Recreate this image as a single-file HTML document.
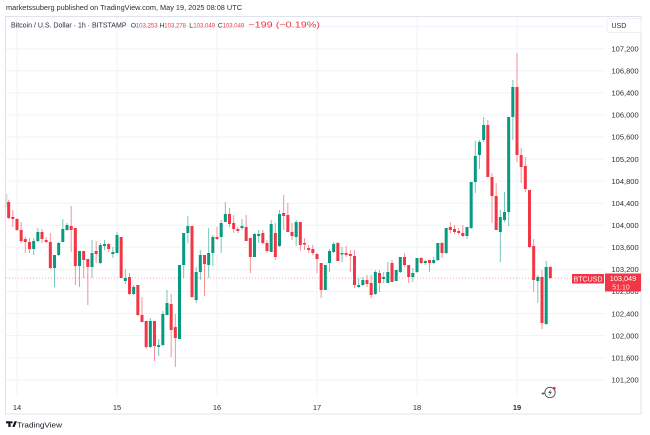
<!DOCTYPE html>
<html>
<head>
<meta charset="utf-8">
<style>
html,body{margin:0;padding:0;background:#fff;}
body{width:650px;height:435px;overflow:hidden;}
svg{display:block;font-family:"Liberation Sans",sans-serif;}
</style>
</head>
<body>
<svg width="650" height="435" viewBox="0 0 650 435" xmlns="http://www.w3.org/2000/svg">
<rect width="650" height="435" fill="#fff"/>
<!-- header line 1 -->
<text x="6" y="10" font-size="7.6" fill="#2a2e39" textLength="236" lengthAdjust="spacingAndGlyphs">marketssuberg published on TradingView.com, May 19, 2025 08:08 UTC</text>
<!-- frame -->
<rect x="5.5" y="16.5" width="635.5" height="397.5" fill="none" stroke="#e0e3eb" stroke-width="1"/>
<!-- horizontal grid -->
<g stroke="#f0f3fa" stroke-width="1">
<line x1="6" x2="605" y1="26.6" y2="26.6"/>
<line x1="6" x2="605" y1="48.7" y2="48.7"/>
<line x1="6" x2="605" y1="70.8" y2="70.8"/>
<line x1="6" x2="605" y1="92.8" y2="92.8"/>
<line x1="6" x2="605" y1="114.9" y2="114.9"/>
<line x1="6" x2="605" y1="137" y2="137"/>
<line x1="6" x2="605" y1="159.1" y2="159.1"/>
<line x1="6" x2="605" y1="181.1" y2="181.1"/>
<line x1="6" x2="605" y1="203.2" y2="203.2"/>
<line x1="6" x2="605" y1="225.3" y2="225.3"/>
<line x1="6" x2="605" y1="247.3" y2="247.3"/>
<line x1="6" x2="605" y1="269.4" y2="269.4"/>
<line x1="6" x2="605" y1="291.5" y2="291.5"/>
<line x1="6" x2="605" y1="313.6" y2="313.6"/>
<line x1="6" x2="605" y1="335.6" y2="335.6"/>
<line x1="6" x2="605" y1="357.7" y2="357.7"/>
<line x1="6" x2="605" y1="379.8" y2="379.8"/>
<!-- vertical grid -->
<line x1="17" x2="17" y1="17" y2="397"/>
<line x1="117" x2="117" y1="17" y2="397"/>
<line x1="217" x2="217" y1="17" y2="397"/>
<line x1="317" x2="317" y1="17" y2="397"/>
<line x1="417" x2="417" y1="17" y2="397"/>
<line x1="517" x2="517" y1="17" y2="397"/>
</g>
<!-- header line 2 -->
<g>
<text x="11" y="27.5" font-size="7.2" fill="#2a2e39" textLength="115.5" lengthAdjust="spacingAndGlyphs">Bitcoin / U.S. Dollar · 1h · BITSTAMP</text>
<text x="130.8" y="27.5" font-size="6.8" fill="#2a2e39">O</text>
<text x="135.7" y="27.5" font-size="6.4" fill="#f23645" textLength="22" lengthAdjust="spacingAndGlyphs">103,253</text>
<text x="159.6" y="27.5" font-size="6.8" fill="#2a2e39">H</text>
<text x="164.3" y="27.5" font-size="6.4" fill="#f23645" textLength="21.7" lengthAdjust="spacingAndGlyphs">103,278</text>
<text x="189.2" y="27.5" font-size="6.8" fill="#2a2e39">L</text>
<text x="193.3" y="27.5" font-size="6.4" fill="#f23645" textLength="21.7" lengthAdjust="spacingAndGlyphs">103,049</text>
<text x="217.8" y="27.5" font-size="6.8" fill="#2a2e39">C</text>
<text x="222.7" y="27.5" font-size="6.4" fill="#f23645" textLength="21.5" lengthAdjust="spacingAndGlyphs">103,049</text>
<text x="248.3" y="27.5" font-size="8.3" fill="#f23645" textLength="71.7" lengthAdjust="spacingAndGlyphs">−199 (−0.19%)</text>
</g>
<!-- USD box -->
<rect x="607" y="18.5" width="34" height="14" rx="2" fill="#fff" stroke="#eef0f4"/>
<text x="611.5" y="28" font-size="7" fill="#2a2e39">USD</text>
<!-- price labels -->
<g font-size="7.5" fill="#2a2e39">
<text x="611.5" y="51.4">107,200</text>
<text x="611.5" y="73.5">106,800</text>
<text x="611.5" y="95.5">106,400</text>
<text x="611.5" y="117.6">106,000</text>
<text x="611.5" y="139.7">105,600</text>
<text x="611.5" y="161.8">105,200</text>
<text x="611.5" y="183.8">104,800</text>
<text x="611.5" y="205.9">104,400</text>
<text x="611.5" y="228">104,000</text>
<text x="611.5" y="250">103,600</text>
<text x="611.5" y="272.1">103,200</text>
<text x="611.5" y="294.2">102,800</text>
<text x="611.5" y="316.3">102,400</text>
<text x="611.5" y="338.3">102,000</text>
<text x="611.5" y="360.4">101,600</text>
<text x="611.5" y="382.5">101,200</text>
</g>
<!-- date labels -->
<g font-size="7.5" fill="#2a2e39" text-anchor="middle">
<text x="17" y="410">14</text>
<text x="117" y="410">15</text>
<text x="217" y="410">16</text>
<text x="317" y="410">17</text>
<text x="417" y="410">18</text>
<text x="517" y="410" font-weight="bold">19</text>
</g>
<!-- partial candle at left edge -->
<rect x="5" y="194" width="2.5" height="13" fill="#dcdcdc"/>
<!-- current price dotted line -->
<line x1="6" x2="605" y1="278" y2="278" stroke="#f23645" stroke-opacity="0.45" stroke-dasharray="1,2"/>
<!-- red wicks -->
<path fill="none" stroke="#f23645" stroke-opacity="0.55" stroke-width="1" d="M8.67 200V219M12.83 210V227M17 218V231M21.17 222V243M25.33 237V253M29.5 238V253M42 229V243M46.17 237V243M50.33 233V269M71.17 206V252M75.33 228V285M83.67 251V278M87.83 259V305M96.17 241V263M108.67 243V252M121.17 237V278M129.5 273V295M137.83 285V316M142 297V322M146.17 321V349M154.5 321V361M171.17 294V357M175.33 314V367M192 226V298M204.5 255V296M217 227V240M229.5 208V227M233.67 215V233M237.83 227V233M246.17 215V241M250.33 238V273M262.83 230V244M267 240V253M275.33 223V260M283.67 195V230M287.83 203V232M292 223V240M300.33 222V251M304.5 238V250M308.67 245V253M312.83 245V255M317 253V273M321.17 263V298M337.83 242V261M346.17 246V257M350.33 250V272M354.5 250V288M367 275V287M371.17 275V298M379.5 270V292M392 260V282M404.5 253V267M408.67 265V283M421.17 257V264M429.5 260V272M442 242V258M450.33 222V233M454.5 225V234M458.67 228V235M462.83 225V237M487.83 120V177M492 173V223M496.17 183V230M517 53V162M521.17 148V183M525.33 157V192M529.5 190V248M533.67 239V292M542 270V329M550.33 266V279"/>
<!-- green wicks -->
<path fill="none" stroke="#089981" stroke-opacity="0.55" stroke-width="1" d="M33.67 238V255M37.83 228V242M54.5 255V287M58.67 242V256M62.83 219V242M67 223V231M79.5 251V287M92 240V278M100.33 243V264M104.5 240V250M112.83 247V258M117 232V253M125.33 269V284M133.67 285V295M150.33 318V348M158.67 339V356M162.83 311V346M167 290V315M179.5 265V339M183.67 233V278M187.83 216V243M196.17 267V303M200.33 250V280M208.67 228V278M212.83 235V266M221.17 220V253M225.33 202V222M242 219V230M254.5 233V257M258.67 230V243M271.17 220V252M279.5 210V247M296.17 220V246M325.33 265V290M329.5 249V272M333.67 242V253M342 247V262M358.67 278V288M362.83 277V286M375.33 270V295M383.67 272V283M387.83 262V283M396.17 270V281M400.33 257V273M412.83 268V282M417 258V273M425.33 260V265M433.67 257V264M437.83 243V261M446.17 228V254M467 227V239M471.17 182V229M475.33 141V193M479.5 140V169M483.67 117V142M500.33 210V262M504.5 192V222M508.67 117V226M512.83 80V140M537.83 275V303M546.17 261V325"/>
<!-- red bodies -->
<path fill="none" stroke="#f23645" stroke-width="3" d="M8.67 202V218M12.83 217V219M17 219V230M21.17 230V241M25.33 239V242M29.5 242V249M42 232V239M46.17 240V242M50.33 242V268M71.17 226V230M75.33 228V266M83.67 251V260M87.83 259V267M96.17 251V254M108.67 244V249M121.17 237V278M129.5 277V294M137.83 285V315M142 315V322M146.17 321V347M154.5 321V346M171.17 304V330M175.33 327V338M192 226V297M204.5 255V264M217 237V239M229.5 214V224M233.67 223V229M237.83 229V231M246.17 227V241M250.33 238V257M262.83 233V243M267 243V251M275.33 233V257M283.67 213V216M287.83 215V232M292 232V236M300.33 222V245M304.5 243V244.5M308.67 248V250M312.83 249V253M317 254V259M321.17 263V290M337.83 243V261M346.17 253V255M350.33 254V256M354.5 256V285M367 280V284M371.17 283V295M379.5 273V283M392 263V282M404.5 257V265M408.67 265V277M421.17 258V263M429.5 260V263M442 243V253M450.33 227V230M454.5 229V232M458.67 231V233M462.83 233V236M487.83 125V177M492 177V196M496.17 196V230M517 87V155M521.17 155V167M525.33 166V189M529.5 190V247M533.67 246V280M542 277V323M550.33 267V278"/>
<!-- green bodies -->
<path fill="none" stroke="#089981" stroke-width="3" d="M33.67 241V249M37.83 232V241M54.5 255V268M58.67 243V255M62.83 229V242M67 225V230M79.5 251V266M92 253V267M100.33 245V263M104.5 244V246M112.83 252V254M117 235V253M125.33 278V281M133.67 287V294M150.33 321V347M158.67 345V347M162.83 314V345M167 303V315M179.5 265V339M183.67 233V265M187.83 226V233M196.17 272V300M200.33 255V272M208.67 253V265M212.83 237V253M221.17 223V237M225.33 214V222M242 226V228M254.5 234V257M258.67 234V236M271.17 224V252M279.5 214V246M296.17 222V237M325.33 265V290M329.5 251V263M333.67 244V252M342 253V254.5M358.67 285V287M362.83 280V285M375.33 272V294M383.67 277V279M387.83 272V283M396.17 270V281M400.33 257V272M412.83 273V277M417 258V272M425.33 261V263M433.67 260V263M437.83 243V260M446.17 228V253M467 227V236M471.17 182V228M475.33 156V182M479.5 142V155M483.67 125V140M500.33 217V232M504.5 212V220M508.67 117V212M512.83 87V117M537.83 277V281M546.17 267V324"/>
<!-- BTCUSD label -->
<rect x="572" y="274" width="32" height="9.5" fill="#f23645"/>
<text x="588" y="281.5" font-size="7" fill="#fff" text-anchor="middle">BTCUSD</text>
<rect x="605" y="273.5" width="36" height="18" fill="#f23645"/>
<text x="623" y="281" font-size="7.3" fill="#fff" text-anchor="middle">103,049</text>
<text x="621" y="289.5" font-size="7" fill="#fff" fill-opacity="0.85" text-anchor="middle">51:10</text>
<!-- lightning icon -->
<g>
<circle cx="550" cy="392.5" r="5.2" fill="#fff" stroke="#4a4e59" stroke-width="0.9"/>
<path d="M551 388.8 L548.3 393 L550.2 393 L549 396.3 L551.9 391.8 L550 391.8 Z" fill="#4a4e59"/>
<circle cx="554.2" cy="388.4" r="1.5" fill="#f23645"/>
<path d="M541.5 393.5h3M543 392v3" stroke="#4a4e59" stroke-width="0.8"/>
</g>
<!-- TradingView logo -->
<g fill="#131722">
<path d="M6 421.2h4.6v5.8h-2.3v-3.6H6z"/>
<circle cx="11.6" cy="422.3" r="1.1"/>
<path d="M12.3 427l2.2-5.8h2.4l-2.3 5.8z"/>
</g>
<text x="17" y="427.3" font-size="7.6" fill="#131722" textLength="45" lengthAdjust="spacingAndGlyphs">TradingView</text>
</svg>
</body>
</html>
